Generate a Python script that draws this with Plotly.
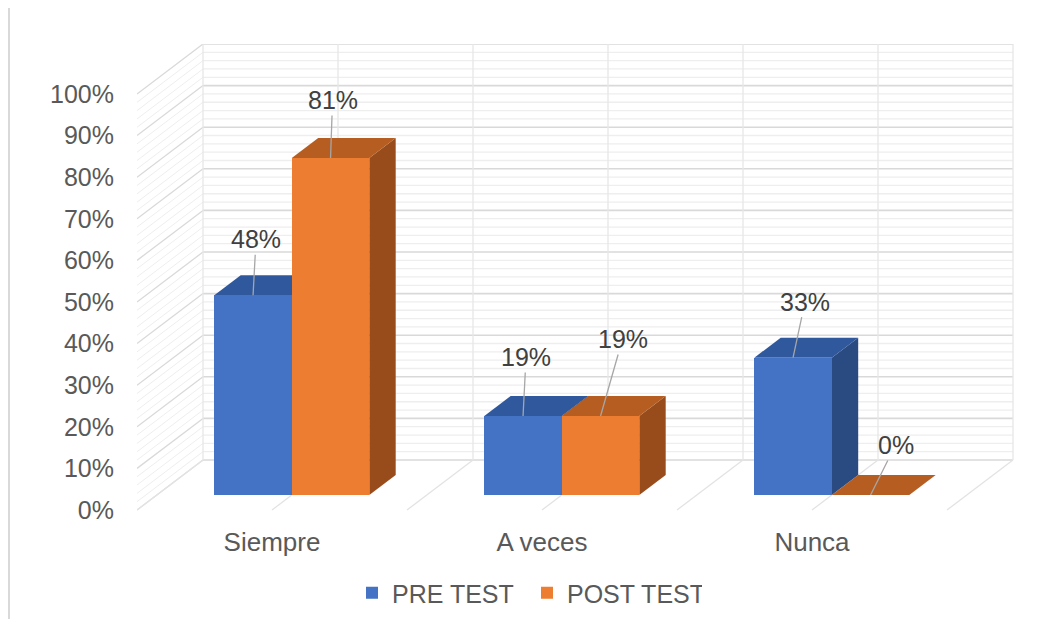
import plotly.graph_objects as go

# ---------------- data ----------------
categories = ["Siempre", "A veces", "Nunca"]
series_names = ["PRE TEST", "POST TEST"]
pre_test = [48, 19, 33]
post_test = [81, 19, 0]
y_tick_vals = [0, 10, 20, 30, 40, 50, 60, 70, 80, 90, 100]
y_tick_text = [f"{v}%" for v in y_tick_vals]

# ---------------- geometry / style ----------------
OFF = 8                                   # default page body margin
W, H = 1052 - 2 * OFF, 660                # extra height keeps the legend clear of the edge
L, R, T = 137 - OFF, 1015 - OFF, 44 - OFF  # plot area edges (figure px)
FLOOR = 510 - OFF                          # floor front edge (figure px)
PX_PER_CAT = 270.0
PX_PER_PCT = 4.16
DEPTH_PX_X, DEPTH_PX_Y = 66.0, 50.0      # floor depth in px
DX = DEPTH_PX_X / PX_PER_CAT             # depth in x units
DY = DEPTH_PX_Y / PX_PER_PCT             # depth in y units
X0 = -0.5
X1 = X0 + (R - L) / PX_PER_CAT
Y1 = (FLOOR - T) / PX_PER_PCT
Y0 = -(H - FLOOR) / PX_PER_PCT
D_FRONT, D_BACK = 0.3, 0.7               # bar depth position
BAR_W = 77.5 / PX_PER_CAT
PLOT_H = H - T

colors = {
    "PRE TEST": dict(front="#4472C4", top="#30589C", side="#2A4A82"),
    "POST TEST": dict(front="#ED7D31", top="#B65E22", side="#984C1B"),
}
MAJOR = "#D9D9D9"
MINOR = "#EEEEEE"
TEXT = "#595959"
LABEL = "#404040"
FONT = "Liberation Sans, Arial, sans-serif"

fig = go.Figure()
shapes = []

# left wall grid (diagonals)
for v in range(0, 101, 2):
    major = v % 10 == 0
    shapes.append(dict(type="line", layer="below", xref="x", yref="y",
                       x0=X0, y0=v, x1=X0 + DX, y1=v + DY,
                       line=dict(color=MAJOR if major else MINOR, width=1.3 if major else 1)))
# back wall horizontal grid
for v in range(0, 101, 2):
    major = v % 10 == 0
    shapes.append(dict(type="line", layer="below", xref="x", yref="y",
                       x0=X0 + DX, y0=v + DY, x1=len(categories) - 0.5 + DX, y1=v + DY,
                       line=dict(color=MAJOR if major else MINOR, width=1.6 if major else 1.3)))
# back wall vertical grid + floor diagonals
for k in range(2 * len(categories) + 1):
    xv = X0 + 0.5 * k
    shapes.append(dict(type="line", layer="below", xref="x", yref="y",
                       x0=xv + DX, y0=DY, x1=xv + DX, y1=100 + DY,
                       line=dict(color="#E6E6E6", width=1.3)))
    shapes.append(dict(type="line", layer="below", xref="x", yref="y",
                       x0=xv, y0=0, x1=xv + DX, y1=DY,
                       line=dict(color="#E3E3E3", width=1.3)))

base = D_FRONT * DY
shift = D_FRONT * DX
ddx = (D_BACK - D_FRONT) * DX
ddy = (D_BACK - D_FRONT) * DY

label_offsets = {
    "PRE TEST": [(3, -56), (3, -59), (12, -56)],
    "POST TEST": [(2, -58), (22, -77), (25, -50)],
}
annotations = []

for sname, vals, sign in [("PRE TEST", pre_test, -1), ("POST TEST", post_test, 1)]:
    c = colors[sname]
    xs = [i + shift + sign * BAR_W / 2 for i in range(len(categories))]
    fig.add_trace(go.Bar(
        x=xs, y=vals, base=[base] * len(vals), width=BAR_W, name=sname,
        marker=dict(color=c["front"], line=dict(width=0)),
        hoverinfo="skip",
    ))
    for i, (xc, v) in enumerate(zip(xs, vals)):
        xa, xb = xc - BAR_W / 2, xc + BAR_W / 2
        yt = base + v
        # side face
        shapes.append(dict(type="path", layer="below", xref="x", yref="y",
                           path=f"M{xb},{base} L{xb + ddx},{base + ddy} L{xb + ddx},{yt + ddy} L{xb},{yt} Z",
                           fillcolor=c["side"], line=dict(width=0)))
        # top face
        shapes.append(dict(type="path", layer="below", xref="x", yref="y",
                           path=f"M{xa},{yt} L{xb},{yt} L{xb + ddx},{yt + ddy} L{xa + ddx},{yt + ddy} Z",
                           fillcolor=c["top"], line=dict(width=0)))
        ax, ay = label_offsets[sname][i]
        annotations.append(dict(
            x=xc, y=yt, xref="x", yref="y", text=f"{v}%",
            showarrow=True, arrowhead=0, arrowwidth=1.3, arrowcolor="#A6A6A6",
            ax=ax, ay=ay, font=dict(size=25, color=LABEL, family=FONT),
        ))

# outer frame line on the left
fx = (9 - OFF - L) / (R - L)
shapes.append(dict(type="line", xref="paper", yref="paper",
                   x0=fx, x1=fx, y0=0, y1=1 + T / PLOT_H,
                   line=dict(color="#D9D9D9", width=2)))

fig.update_layout(
    width=W, height=H, autosize=False,
    margin=dict(l=L, r=W - R, t=T, b=0, pad=0),
    paper_bgcolor="white", plot_bgcolor="white",
    barmode="overlay", bargap=0,
    shapes=shapes, annotations=annotations,
    font=dict(family=FONT, size=25, color=TEXT),
    showlegend=True,
    legend=dict(orientation="h", x=(352 - OFF - L) / (R - L), xanchor="left",
                y=(H - (593 - OFF)) / PLOT_H, yanchor="middle",
                entrywidth=130, entrywidthmode="pixels",
                font=dict(size=25, color=TEXT, family=FONT), traceorder="normal"),
    xaxis=dict(range=[X0, X1], tickmode="array", tickvals=list(range(len(categories))),
               ticktext=categories, showgrid=False, zeroline=False, showline=False,
               anchor="free", position=(H - FLOOR) / PLOT_H, automargin=False,
               ticks="", ticklabelstandoff=14, tickfont=dict(size=26, color=TEXT)),
    yaxis=dict(range=[Y0, Y1], tickmode="array", tickvals=y_tick_vals, ticktext=y_tick_text,
               showgrid=False, zeroline=False, showline=False, ticks="", automargin=False,
               ticklabelstandoff=22, tickfont=dict(size=25, color=TEXT)),
)

fig.write_html("out.html")
